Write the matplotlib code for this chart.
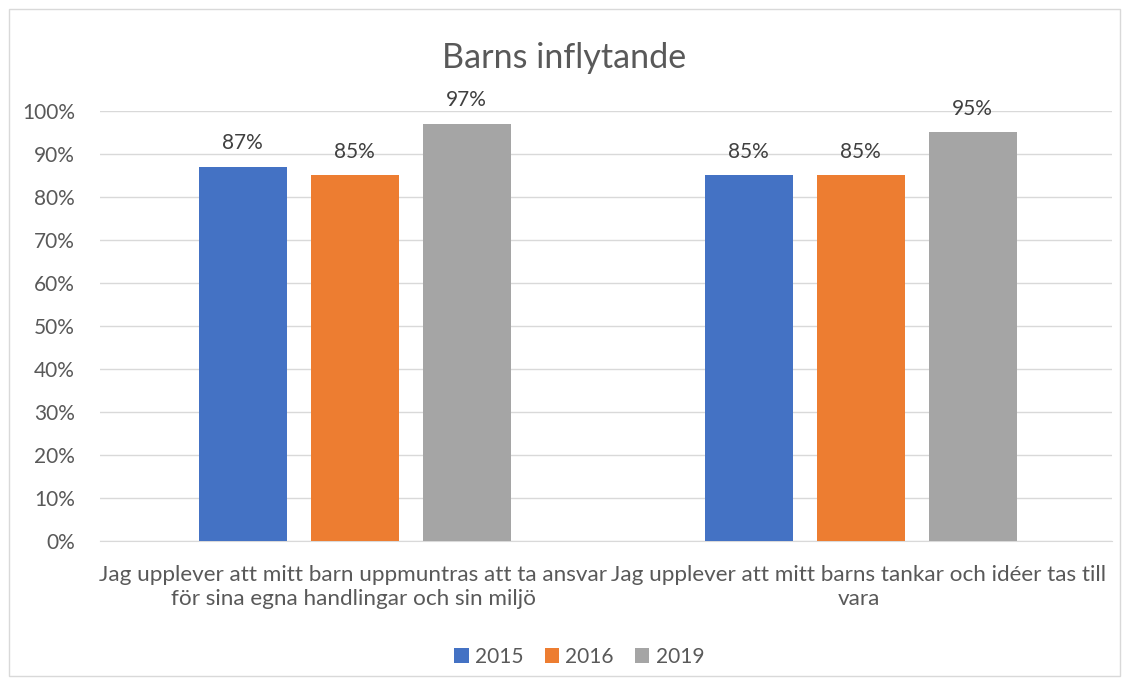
import matplotlib
matplotlib.use('Agg')

import matplotlib.pyplot as plt
import numpy as np
from matplotlib.patches import Rectangle

# Data
categories = ['Jag upplever att mitt barn uppmuntras att ta ansvar\nför sina egna handlingar och sin miljö',
              'Jag upplever att mitt barns tankar och idéer tas till\nvara']
years = ['2015', '2016', '2019']
v2015 = [87, 85]
v2016 = [85, 85]
v2019 = [97, 95]
colors = ['#4472C4', '#ED7D31', '#A5A5A5']

plt.rcParams['font.family'] = ['Lato', 'DejaVu Sans']
txt = '#595959'

fig = plt.figure(figsize=(11.29, 6.84), dpi=100)
ax = fig.add_axes([0.0886, 0.209, 0.8964, 0.629])

# Chart border
fig.patches.append(Rectangle((9/1129, 8/684), 1111/1129, 667/684, transform=fig.transFigure,
                             fill=False, edgecolor='#D9D9D9', linewidth=1))

x = np.arange(len(categories))
w = 0.174
step = 0.2213
for i, (vals, c, lab) in enumerate(zip([v2015, v2016, v2019], colors, years)):
    bars = ax.bar(x + (i - 1) * step + 0.003, vals, w, color=c, label=lab, zorder=3)
    for b, v in zip(bars, vals):
        ax.text(b.get_x() + b.get_width() / 2, v + 3.2, f'{v}%', ha='center', va='bottom',
                fontsize=15, color='#404040')

ax.set_xlim(-0.5, 1.5)
ax.set_ylim(0, 100)
ax.set_yticks(np.arange(0, 101, 10))
ax.set_yticklabels([f'{t}%' for t in range(0, 101, 10)], fontsize=15, color=txt)
ax.set_xticks(x)
ax.set_xticklabels(categories, fontsize=16.2, color=txt, linespacing=1.3)
ax.tick_params(length=0, pad=18)
ax.tick_params(axis='x', pad=17)
ax.grid(axis='y', color='#D9D9D9', linewidth=1, zorder=0)
for s in ['top', 'right', 'left']:
    ax.spines[s].set_visible(False)
ax.spines['bottom'].set_color('#D9D9D9')

fig.text(0.5, 0.915, 'Barns inflytande', ha='center', va='center', fontsize=24.6, color=txt)
fig.legend(loc='center', bbox_to_anchor=(0.513, 0.04), ncol=3, frameon=False, fontsize=15,
           handlelength=0.7, handleheight=0.7, handletextpad=0.3, columnspacing=1.0,
           labelcolor=txt)

fig.savefig('out.png', dpi=100)
